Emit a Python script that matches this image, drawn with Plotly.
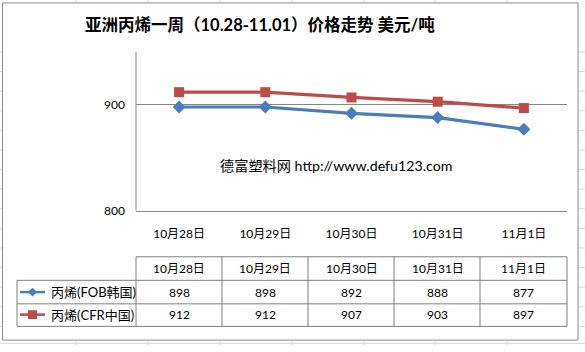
import plotly.graph_objects as go

W, H = 585, 352

categories = ["10月28日", "10月29日", "10月30日", "10月31日", "11月1日"]
series_names = ["丙烯(FOB韩国)", "丙烯(CFR中国)"]
fob_korea = [898, 898, 892, 888, 877]
cfr_china = [912, 912, 907, 903, 897]
y_ticks = [800, 900]

title_text = "亚洲丙烯一周（10.28-11.01）价格走势 美元/吨"
watermark = "德富塑料网 http://www.defu123.com"

BLUE = "#4A7EBB"
RED = "#BE4B48"
GRID = "#868686"
FONT = "Lato, 'Noto Sans CJK SC', sans-serif"


def px(x):
    return x / W


def py(y):
    return 1 - y / H


# plot area in pixels
PL, PR, PT, PB = 136, 567, 53, 215

fig = go.Figure()
fig.add_trace(go.Scatter(
    x=categories, y=fob_korea, name=series_names[0], mode="lines+markers",
    line=dict(color=BLUE, width=3.2),
    marker=dict(symbol="diamond", size=10, color=BLUE),
    showlegend=False, cliponaxis=False))
fig.add_trace(go.Scatter(
    x=categories, y=cfr_china, name=series_names[1], mode="lines+markers",
    line=dict(color=RED, width=3.2),
    marker=dict(symbol="square", size=10, color=RED),
    showlegend=False, cliponaxis=False))

shapes = []
ann = []

# outer spreadsheet gridlines (background)
for gx in [76, 148, 220, 292, 364, 435, 507]:
    shapes.append(dict(type="line", xref="paper", yref="paper",
                       x0=px(gx), x1=px(gx), y0=py(0), y1=py(3),
                       line=dict(color="#dadada", width=1), layer="below"))
    shapes.append(dict(type="line", xref="paper", yref="paper",
                       x0=px(gx), x1=px(gx), y0=py(348), y1=py(352),
                       line=dict(color="#dadada", width=1), layer="below"))
gy = 53
while gy < 352:
    shapes.append(dict(type="line", xref="paper", yref="paper",
                       x0=px(578), x1=px(585), y0=py(gy), y1=py(gy),
                       line=dict(color="#dadada", width=1), layer="below"))
    shapes.append(dict(type="line", xref="paper", yref="paper",
                       x0=px(0), x1=px(2), y0=py(gy), y1=py(gy),
                       line=dict(color="#dadada", width=1), layer="below"))
    gy += 20
shapes.append(dict(type="line", xref="paper", yref="paper",
                   x0=0, x1=1, y0=py(350.5), y1=py(350.5),
                   line=dict(color="#dadada", width=1), layer="below"))

# chart border
shapes.append(dict(type="rect", xref="paper", yref="paper",
                   x0=px(2.5), x1=px(578), y0=py(3), y1=py(347),
                   line=dict(color="#8a8a8a", width=1), fillcolor="white",
                   layer="below"))

# plot-area left axis line
shapes.append(dict(type="line", xref="paper", yref="paper",
                   x0=px(PL), x1=px(PL), y0=py(PT), y1=py(PB),
                   line=dict(color=GRID, width=1)))

# data table
TBL = "#7f7f7f"
col_x = [136, 222, 308, 394, 480, 567]
row_y = [262, 286, 310, 333]
shapes.append(dict(type="line", xref="paper", yref="paper",
                   x0=px(136), x1=px(567), y0=py(262), y1=py(262),
                   line=dict(color=TBL, width=1)))
for ry in row_y[1:]:
    shapes.append(dict(type="line", xref="paper", yref="paper",
                       x0=px(17), x1=px(567), y0=py(ry), y1=py(ry),
                       line=dict(color=TBL, width=1)))
shapes.append(dict(type="line", xref="paper", yref="paper",
                   x0=px(17), x1=px(17), y0=py(286), y1=py(333),
                   line=dict(color=TBL, width=1)))
for cx in col_x:
    shapes.append(dict(type="line", xref="paper", yref="paper",
                       x0=px(cx), x1=px(cx), y0=py(262), y1=py(333),
                       line=dict(color=TBL, width=1)))

# legend keys inside table
for yy, col, sym in [(298, BLUE, "diamond"), (321, RED, "square")]:
    shapes.append(dict(type="line", xref="paper", yref="paper",
                       x0=px(20), x1=px(45), y0=py(yy), y1=py(yy),
                       line=dict(color=col, width=2.5)))
    if sym == "diamond":
        c = 32.5
        path = (f"M {px(c)},{py(yy-4.5)} L {px(c+4.5)},{py(yy)} "
                f"L {px(c)},{py(yy+4.5)} L {px(c-4.5)},{py(yy)} Z")
        shapes.append(dict(type="path", xref="paper", yref="paper", path=path,
                           fillcolor=col, line=dict(color=col, width=0)))
    else:
        shapes.append(dict(type="rect", xref="paper", yref="paper",
                           x0=px(28), x1=px(37), y0=py(yy - 4.5), y1=py(yy + 4.5),
                           fillcolor=col, line=dict(color=col, width=0)))

for name, yy in zip(series_names, [298, 321]):
    ann.append(dict(text=name, xref="paper", yref="paper", x=px(49), y=py(yy),
                    xanchor="left", yanchor="middle", showarrow=False,
                    font=dict(family=FONT, size=13, color="#000")))

for cat in categories:
    ann.append(dict(text=cat, xref="x", yref="paper", x=cat, y=py(274),
                    xanchor="center", yanchor="middle", showarrow=False,
                    font=dict(family=FONT, size=12, color="#000")))
for vals, yy in [(fob_korea, 298), (cfr_china, 321)]:
    for cat, v in zip(categories, vals):
        ann.append(dict(text=str(v), xref="x", yref="paper", x=cat, y=py(yy),
                        xanchor="center", yanchor="middle", showarrow=False,
                        font=dict(family=FONT, size=12, color="#000")))

# title and watermark
ann.append(dict(text=f"<b>{title_text}</b>", xref="paper", yref="paper",
                x=px(260), y=py(25), xanchor="center", yanchor="middle",
                showarrow=False, font=dict(family=FONT, size=16.5, color="#000")))
ann.append(dict(text=watermark, xref="paper", yref="paper",
                x=px(218), y=py(169), xanchor="left", yanchor="middle",
                showarrow=False, font=dict(family=FONT, size=14.2, color="#000")))

fig.update_layout(
    width=W, height=H,
    margin=dict(l=0, r=0, t=0, b=0),
    paper_bgcolor="white", plot_bgcolor="rgba(0,0,0,0)",
    shapes=shapes, annotations=ann,
    xaxis=dict(domain=[px(PL), px(PR)], type="category",
               range=[-0.5, len(categories) - 0.5],
               showgrid=False, zeroline=False, showline=True,
               linecolor=GRID, linewidth=1, ticks="",
               tickfont=dict(family=FONT, size=12, color="#000"),
               ticklabelstandoff=12, fixedrange=True),
    yaxis=dict(domain=[py(PB), py(PT)], range=[800, 950],
               tickvals=y_ticks, showgrid=True, gridcolor=GRID, gridwidth=1,
               zeroline=False, showline=False, ticks="",
               tickfont=dict(family=FONT, size=12, color="#000"),
               ticklabelstandoff=10, fixedrange=True),
)

fig.write_html("out.html")
